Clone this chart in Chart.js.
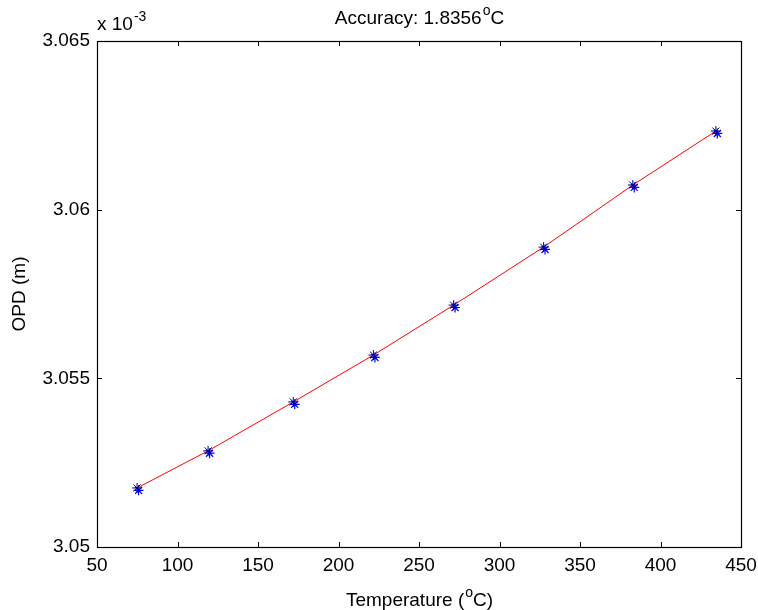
<!DOCTYPE html>
<html><head><meta charset="utf-8">
<script src="https://cdn.jsdelivr.net/npm/chart.js@4/dist/chart.umd.min.js"></script>
<style>html,body{margin:0;padding:0;background:#fff}#wrap{width:758px;height:610px}</style>
</head><body><div id="wrap"><canvas id="c" width="758" height="610"></canvas></div>
<script>
// Data (OPD in units of 1e-3 m)
const temperature = [74.9, 119.0, 171.9, 221.7, 271.5, 327.4, 382.8, 434.4];
const opdMeasured = [3.05175, 3.05285, 3.05430, 3.05569, 3.05717, 3.05889, 3.06073, 3.06233];
const opdEstimatedT = [75.8, 119.9, 172.8, 222.6, 272.4, 328.3, 383.7, 435.3];
const opdEstimated = [3.05168, 3.05278, 3.05423, 3.05562, 3.05710, 3.05882, 3.06066, 3.06226];
const fitOPD = [3.05175, 3.05285, 3.05430, 3.05569, 3.05717, 3.05889, 3.06073, 3.06233];
const xTicks = [50, 100, 150, 200, 250, 300, 350, 400, 450];
const yTicks = [3.05, 3.055, 3.06, 3.065];
const titleText = ["Accuracy: 1.8356", "o", "C"];
const xTitleText = ["Temperature (", "o", "C)"];
const yTitleText = "OPD (m)";
const expText = ["x 10", "-3"];

const FONT = "Liberation Sans, Arial, sans-serif";
const FS = 19;

function drawSup(ctx, parts, cx, y, size, align) {
  const ss = Math.round(size*0.72);
  ctx.font = size + "px " + FONT;
  const w0 = ctx.measureText(parts[0]).width;
  ctx.font = ss + "px " + FONT;
  const w1 = ctx.measureText(parts[1]).width;
  ctx.font = size + "px " + FONT;
  const w2 = parts[2] ? ctx.measureText(parts[2]).width : 0;
  const total = w0 + w1 + w2;
  let x = align === 'left' ? cx : cx - total/2;
  ctx.textAlign = 'left'; ctx.textBaseline = 'alphabetic';
  ctx.fillStyle = '#000';
  ctx.fillText(parts[0], x, y);
  ctx.font = ss + "px " + FONT;
  ctx.fillText(parts[1], x + w0 + 1, y - size*0.45);
  if (parts[2]) { ctx.font = size + "px " + FONT; ctx.fillText(parts[2], x + w0 + w1 + 1, y); }
}

const decor = {
  id: 'decor',
  afterDatasetsDraw(chart) {
    const ctx = chart.ctx, a = chart.chartArea;
    const xs = chart.scales.x, ys = chart.scales.y;
    ctx.save();
    ctx.strokeStyle = '#000'; ctx.lineWidth = 1;
    const L = 5;
    ctx.beginPath();
    xTicks.forEach(v => {
      const px = Math.round(xs.getPixelForValue(v)) + 0.5;
      ctx.moveTo(px, a.bottom); ctx.lineTo(px, a.bottom - L);
      ctx.moveTo(px, a.top); ctx.lineTo(px, a.top + L);
    });
    yTicks.forEach(v => {
      const py = Math.round(ys.getPixelForValue(v)) + 0.5;
      ctx.moveTo(a.left, py); ctx.lineTo(a.left + L, py);
      ctx.moveTo(a.right, py); ctx.lineTo(a.right - L, py);
    });
    ctx.stroke();
    ctx.lineWidth = 1.2;
    ctx.strokeRect(Math.round(a.left)+0.5, Math.round(a.top)+0.5, Math.round(a.right-a.left), Math.round(a.bottom-a.top));
    // texts
    drawSup(ctx, titleText, (a.left + a.right)/2, 24, FS);
    drawSup(ctx, xTitleText, (a.left + a.right)/2, 606, FS);
    drawSup(ctx, expText, a.left, 30, FS, 'left');
    ctx.translate(25, (a.top + a.bottom)/2);
    ctx.rotate(-Math.PI/2);
    ctx.font = FS + "px " + FONT; ctx.textAlign = 'center'; ctx.textBaseline = 'alphabetic';
    ctx.fillText(yTitleText, 0, 0);
    ctx.restore();
  }
};

new Chart(document.getElementById('c'), {
  type: 'scatter',
  data: {
    datasets: [
      { label: 'fit', type: 'line', data: temperature.map((t,i)=>({x:t,y:fitOPD[i]})),
        borderColor: '#ff0000', borderWidth: 1, pointRadius: 0, fill: false, tension: 0, order: 3 },
      { label: 'estimated', data: opdEstimatedT.map((t,i)=>({x:t,y:opdEstimated[i]})),
        pointStyle: 'star', pointRadius: 5, borderColor: '#0000ff', backgroundColor: '#0000ff', pointBorderWidth: 1.2, order: 2 },
      { label: 'measured', data: temperature.map((t,i)=>({x:t,y:opdMeasured[i]})),
        pointStyle: 'star', pointRadius: 5, borderColor: '#000080', backgroundColor: '#000080', pointBorderWidth: 1, order: 1 }
    ]
  },
  options: {
    responsive: false, animation: false, devicePixelRatio: 1,
    layout: { padding: { left: 0, top: 41, right: 17, bottom: 0 } },
    plugins: { legend: { display: false }, tooltip: { enabled: false }, title: { display: false } },
    scales: {
      x: { type: 'linear', min: 50, max: 450,
        afterBuildTicks: s => { s.ticks = xTicks.map(v => ({value: v})); },
        afterFit: s => { s.height = 63; s.paddingLeft = 0; s.paddingRight = 0; },
        grid: { display: false, drawTicks: false },
        border: { display: false },
        ticks: { color: '#000', font: { family: FONT, size: FS }, padding: 7, maxRotation: 0, autoSkip: false, callback: v => String(v) } },
      y: { type: 'linear', min: 3.05, max: 3.065,
        afterBuildTicks: s => { s.ticks = yTicks.map(v => ({value: v})); },
        afterFit: s => { s.width = 97; s.paddingTop = 0; s.paddingBottom = 0; },
        grid: { display: false, drawTicks: false },
        border: { display: false },
        ticks: { color: '#000', font: { family: FONT, size: FS }, padding: 7, callback: v => String(parseFloat(v.toFixed(3))) } }
    }
  },
  plugins: [decor]
});
</script></body></html>
